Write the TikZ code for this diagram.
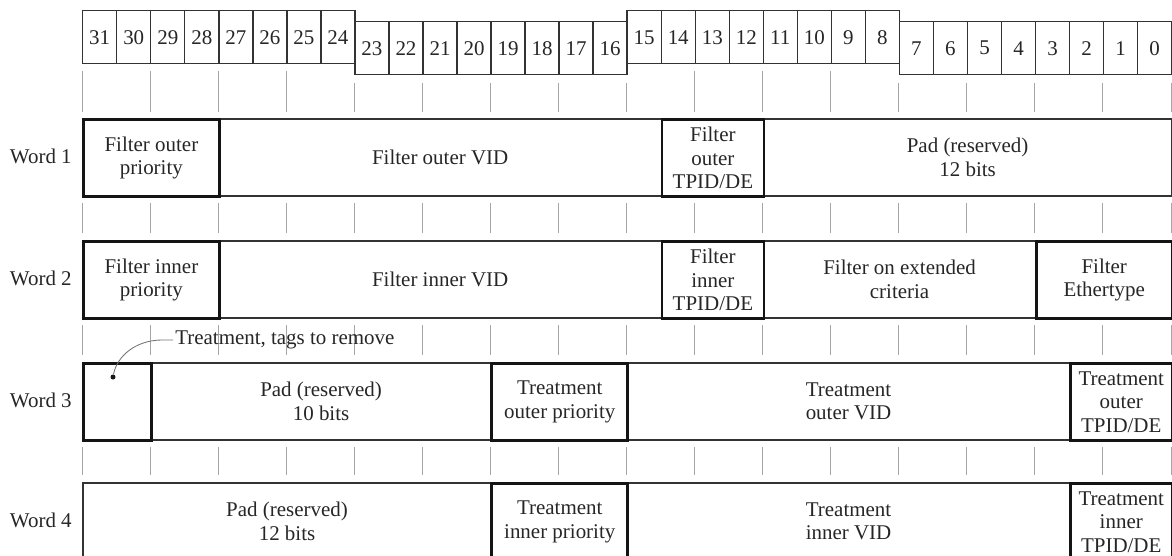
\documentclass[tikz,border=0pt]{standalone}
\usepackage{fontspec}
\setmainfont{Liberation Serif}
\begin{document}
\begin{tikzpicture}[x=0.025cm,y=-0.025cm,
  font=\fontsize{14.9}{16.7}\selectfont, text=black!85,
  bitcell/.style={draw=black!80, line width=1pt, anchor=north west,
    minimum width=34.03*0.025cm, minimum height=53*0.025cm, inner sep=0pt},
  tickline/.style={draw=black!35, line width=0.6pt},
  span/.style={minimum width=#1*34.03*0.025cm},
  thinfield/.style={draw=black!80, line width=1.2pt, anchor=north west,
    minimum height=77*0.025cm, inner sep=0pt, align=center},
  thickfield/.style={thinfield, draw=black!92, line width=1.9pt},
  wordlabel/.style={anchor=east, inner sep=0pt}]
\useasboundingbox (0,0) rectangle (1172,555);
\clip (0,0) rectangle (1172,555);

% bit number cells
\foreach \i in {0,...,31}{
  \pgfmathsetmacro\c{31-\i}
  \pgfmathsetmacro\xx{82+\c*34.03}
  \pgfmathsetmacro\yy{mod(floor(\c/8),2)==0 ? 10 : 21}
  \node[bitcell] (b\i) at (\xx,\yy) {\i};
}

% ticks under the bit cells and between the words
\foreach \k in {0,...,16}{
  \pgfmathsetmacro\xx{82+\k*68.06}
  \pgfmathsetmacro\yt{(\k>=4 && \k<=8) || \k>=12 ? 83 : 71}
  \draw[tickline] (\xx,\yt) -- (\xx,112);
  \draw[tickline] (\xx,203) -- (\xx,233);
  \draw[tickline] (\xx,325) -- (\xx,355);
  \draw[tickline] (\xx,447) -- (\xx,475);
}

% word labels
\node[wordlabel] (w1) at (72,156.5) {Word 1};
\node[wordlabel] (w2) at (72,278.5) {Word 2};
\node[wordlabel] (w3) at (72,400.5) {Word 3};
\node[wordlabel] (w4) at (72,520.5) {Word 4};

% Word 1
\node[thinfield, span=13] (w1vid) at ({82+4*34.03},118) {Filter outer VID};
\node[thinfield, span=12] (w1pad) at ({82+20*34.03},118) {Pad (reserved)\\12 bits};
\node[thickfield, span=4] (w1pri) at (82,118) {Filter outer\\priority};
\node[thickfield, span=3] (w1tpid) at ({82+17*34.03},118) {Filter\\outer\\TPID/DE};

% Word 2
\node[thinfield, span=13] (w2vid) at ({82+4*34.03},240) {Filter inner VID};
\node[thinfield, span=8] (w2ext) at ({82+20*34.03},240) {Filter on extended\\criteria};
\node[thickfield, span=4] (w2pri) at (82,240) {Filter inner\\priority};
\node[thickfield, span=3] (w2tpid) at ({82+17*34.03},240) {Filter\\inner\\TPID/DE};
\node[thickfield, span=4] (w2eth) at ({82+28*34.03},240) {Filter\\Ethertype};

% Word 3
\node[thinfield, span=10] (w3pad) at ({82+2*34.03},362) {Pad (reserved)\\10 bits};
\node[thinfield, span=13] (w3vid) at ({82+16*34.03},362) {Treatment\\outer VID};
\node[thickfield, span=2] (w3tag) at (82,362) {};
\node[thickfield, span=4] (w3pri) at ({82+12*34.03},362) {Treatment\\outer priority};
\node[thickfield, span=3] (w3tpid) at ({82+29*34.03},362) {Treatment\\outer\\TPID/DE};

% Word 4
\node[thinfield, span=12] (w4pad) at (82,482) {Pad (reserved)\\12 bits};
\node[thinfield, span=13] (w4vid) at ({82+16*34.03},482) {Treatment\\inner VID};
\node[thickfield, span=4] (w4pri) at ({82+12*34.03},482) {Treatment\\inner priority};
\node[thickfield, span=3] (w4tpid) at ({82+29*34.03},482) {Treatment\\inner\\TPID/DE};

% annotation
\node[anchor=west, inner sep=0pt] (ann) at (175,340) {Treatment, tags to remove};
\node[circle, fill=black!90, inner sep=0pt, minimum size=5*0.025cm] (dot) at (113,377) {};
\draw[black!55, line width=0.6pt] ([xshift=-2*0.025cm]ann.west) -- (162,340)
  .. controls (136,340) and (117,356) .. (dot);
\end{tikzpicture}
\end{document}
